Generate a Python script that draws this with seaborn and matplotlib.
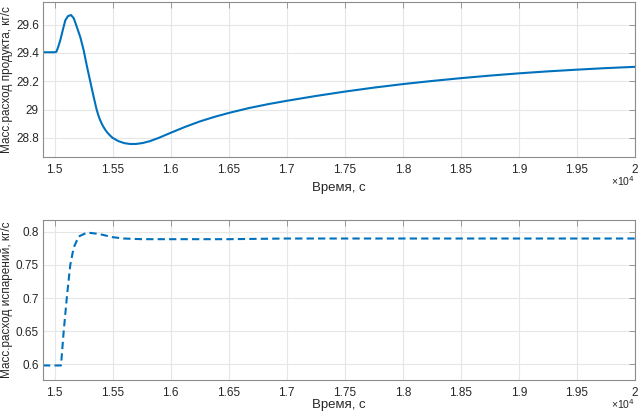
import matplotlib
matplotlib.use('Agg')
import seaborn as sns
import matplotlib.pyplot as plt
from matplotlib.ticker import FuncFormatter

# время, с и массовый расход продукта, кг/с
t_prod = [14900, 15000, 15015, 15030, 15049, 15070, 15092, 15115, 15141, 15165,
          15193, 15222, 15250, 15280, 15308, 15335, 15362, 15376, 15390, 15405,
          15419, 15440, 15460, 15480, 15500, 15550, 15600, 15650, 15700, 15760,
          15821, 15900, 16000, 16125, 16250, 16375, 16500, 16675, 16850, 17000,
          17250, 17500, 17750, 18000, 18250, 18500, 18750, 19000, 19250, 19500,
          19750, 20000]
m_prod = [29.405, 29.405, 29.408, 29.44, 29.49, 29.56, 29.63, 29.66, 29.668, 29.645,
          29.58, 29.51, 29.42, 29.30, 29.195, 29.095, 29.0, 28.962, 28.93, 28.902,
          28.88, 28.853, 28.832, 28.815, 28.80, 28.777, 28.763, 28.757, 28.757, 28.764,
          28.777, 28.801, 28.836, 28.878, 28.916, 28.948, 28.976, 29.011, 29.04, 29.062,
          29.096, 29.127, 29.155, 29.18, 29.202, 29.222, 29.24, 29.256, 29.27, 29.282,
          29.293, 29.302]

# время, с и массовый расход испарений, кг/с
t_evap = [14900, 15055, 15078, 15107, 15135, 15164, 15207, 15279, 15379, 15500,
          15595, 15750, 16000, 16500, 17000, 18000, 19000, 20000]
m_evap = [0.598, 0.598, 0.649, 0.704, 0.75, 0.776, 0.793, 0.799, 0.797, 0.792,
          0.790, 0.789, 0.789, 0.789, 0.790, 0.790, 0.790, 0.790]

x_ticks = [15000 + 500 * i for i in range(11)]
y_ticks_top = [28.8, 29.0, 29.2, 29.4, 29.6]
y_ticks_bot = [0.6, 0.65, 0.7, 0.75, 0.8]

sns.set_style('white')
plt.rcParams['font.family'] = ['Liberation Sans', 'DejaVu Sans']

blue = '#0072BD'
fig = plt.figure(figsize=(6.42, 4.11), dpi=100)
ax1 = fig.add_axes([43 / 642, 1 - 157 / 411, 592 / 642, 155 / 411])
ax2 = fig.add_axes([43 / 642, 1 - 380 / 411, 592 / 642, 160 / 411])

sns.lineplot(x=t_prod, y=m_prod, ax=ax1, color=blue, linewidth=1.5)
sns.lineplot(x=t_evap, y=m_evap, ax=ax2, color=blue, linewidth=1.5,
             linestyle=(0, (3.5, 2)))

ax1.set_ylim(28.665, 29.76)
ax2.set_ylim(0.576, 0.818)
ax1.set_yticks(y_ticks_top)
ax2.set_yticks(y_ticks_bot)
ax1.set_ylabel('Масс.расход продукта, кг/с', fontsize=8.5, color='#262626', labelpad=2)
ax2.set_ylabel('Масс.расход испарений, кг/с', fontsize=8.5, color='#262626', labelpad=2)

for ax, xpad in ((ax1, 4), (ax2, 0)):
    ax.set_xlim(14900, 20000)
    ax.set_xticks(x_ticks)
    ax.xaxis.set_major_formatter(FuncFormatter(lambda v, p: f'{v / 1e4:g}'))
    ax.yaxis.set_major_formatter(FuncFormatter(lambda v, p: f'{v:g}'))
    ax.set_xlabel('Время, с', fontsize=9.5, color='#262626', labelpad=xpad)
    ax.grid(True, color='#e6e6e6', linewidth=0.8)
    ax.set_axisbelow(True)
    ax.tick_params(direction='in', top=True, right=True, length=4, width=0.6,
                   color='#8c8c8c', labelsize=8.5, labelcolor='#262626')
    ax.tick_params(axis='x', pad=5)
    ax.tick_params(axis='y', pad=3)
    for s in ax.spines.values():
        s.set_visible(True)
        s.set_color('#8c8c8c')
        s.set_linewidth(0.8)
    ax.annotate('×10$^4$', xy=(1.0, 0), xycoords='axes fraction',
                xytext=(0, -17), textcoords='offset points', ha='right', va='center',
                fontsize=7.5, color='#262626')

fig.savefig('out.png', dpi=100)
